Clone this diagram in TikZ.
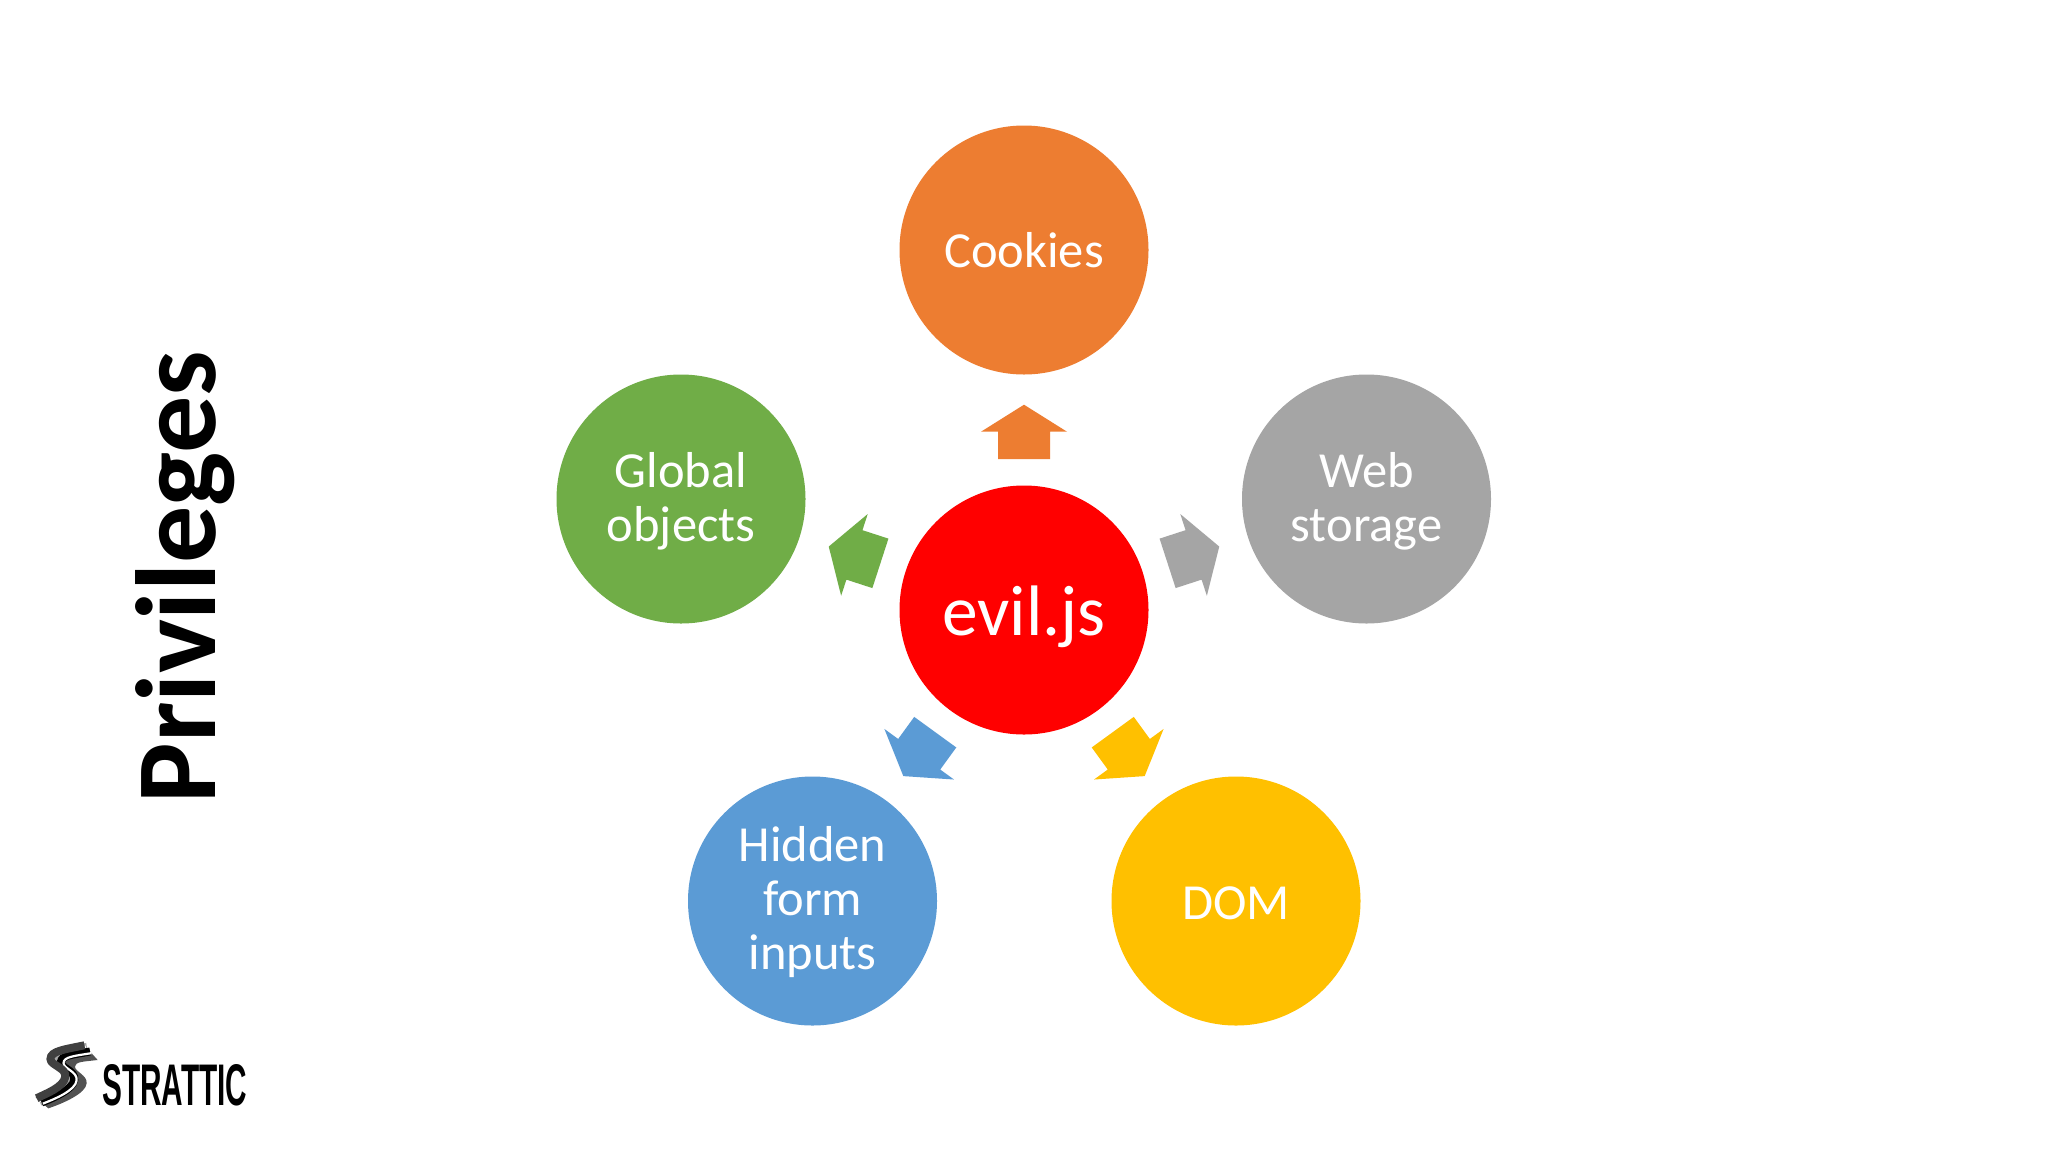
\documentclass[tikz,border=0pt]{standalone}
\usepackage{fontspec}
\usepackage{graphicx}
\setmainfont{Carlito}
\newfontfamily\logofont{Liberation Sans}
\definecolor{cOrange}{HTML}{ED7D31}
\definecolor{cGray}{HTML}{A5A5A5}
\definecolor{cGold}{HTML}{FFC000}
\definecolor{cBlue}{HTML}{5B9BD5}
\definecolor{cGreen}{HTML}{70AD47}
\newcommand{\blockarrow}[2]{%
  \fill[#2,shift={(hub.center)},rotate=#1]
    (0,-205.3) -- (43,-178.3) -- (26,-178.3) -- (26,-151) -- (-26,-151) -- (-26,-178.3) -- (-43,-178.3) -- cycle;}
\newcommand{\stripe}[3]{%
  \draw[#3,line width=#2pt,line cap=butt]
    ({250+43*#1},{132+48*#1}) .. controls ({190+60*#1},{145+40*#1}) and ({145+80*#1},{150+35*#1}) .. ({145+80*#1},{175+25*#1})
    .. controls ({145+80*#1},{195+20*#1}) and ({195+67*#1},{200+25*#1}) .. ({190+70*#1},{230+20*#1})
    .. controls ({185+73*#1},{260+20*#1}) and ({130+60*#1},{280+30*#1}) .. ({107+38*#1},{292+33*#1});}
\tikzset{
  bubble/.style={circle,minimum size=249pt,inner sep=0pt,fill=#1},
  lbl/.style={text=white,align=center,inner sep=0pt,font=\fontsize{50.5}{54}\selectfont},
}
\begin{document}
\begin{tikzpicture}[x=1pt,y=-1pt]
\useasboundingbox (0,0) rectangle (2048,1152);
\fill[white] (0,0) rectangle (2048,1152);
\node[bubble=red] (hub) at (1024,610) {};
\node[bubble=cOrange] (cookies) at (1024,250) {};
\node[bubble=cGray] (web) at (1366.5,499) {};
\node[bubble=cGold] (dom) at (1236,901) {};
\node[bubble=cBlue] (hidden) at (812.5,901) {};
\node[bubble=cGreen] (global) at (681,499) {};
\node[lbl,font=\fontsize{71.5}{80}\selectfont,yshift=-6.5pt] (hubtext) at (hub.center) {evil.js};
\node[lbl] (cookiestext) at (cookies.center) {Cookies};
\node[lbl,yshift=-2.5pt] (webtext) at (web.center) {Web\\storage};
\node[lbl,yshift=-2pt] (domtext) at (dom.center) {DOM};
\node[lbl,yshift=-1pt] (hiddentext) at (hidden.center) {Hidden\\form\\inputs};
\node[lbl,yshift=-2.5pt] (globaltext) at (global.center) {Global\\objects};
\blockarrow{0}{cOrange}
\blockarrow{-72}{cGray}
\blockarrow{-144}{cGold}
\blockarrow{144}{cBlue}
\blockarrow{72}{cGreen}
\node[rotate=90,anchor=base,font=\fontsize{114}{130}\selectfont\bfseries,text=black,inner sep=0pt] (title) at (215.5,577) {Privileges};
\begin{scope}[shift={(0,1000)},x=0.3333pt,y=-0.3333pt]
  \fill[black!68] (250,132) .. controls (190,145) and (145,150) .. (145,175)
    .. controls (145,195) and (195,200) .. (190,230)
    .. controls (185,260) and (130,280) .. (107,292)
    -- (145,325) .. controls (190,310) and (258,280) .. (260,250)
    .. controls (262,225) and (225,215) .. (225,200)
    .. controls (225,185) and (250,185) .. (293,180) -- cycle;
  \stripe{0.27}{11}{black!35}
  \stripe{0.17}{2.2}{white}
  \stripe{0.36}{2.2}{white}
  \stripe{0.47}{8}{black}
  \stripe{0.57}{2.2}{white}
  \stripe{0.08}{8}{black!75}
\end{scope}
\node[inner sep=0pt,anchor=west] (logo) at (102,1085.5) {\resizebox{145pt}{41pt}{\logofont\bfseries STRATTIC}};
\end{tikzpicture}
\end{document}
